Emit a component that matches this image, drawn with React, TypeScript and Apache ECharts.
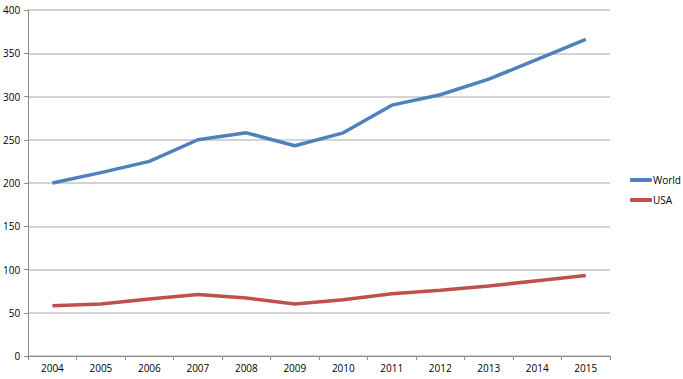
import React, { useEffect, useRef } from "react";
import * as echarts from "echarts";

const years = ["2004", "2005", "2006", "2007", "2008", "2009", "2010", "2011", "2012", "2013", "2014", "2015"];
const worldValues = [200, 212, 225, 250, 258, 243, 258, 290, 302, 320, 343, 366];
const usaValues = [58, 60, 66, 71, 67, 60, 65, 72, 76, 81, 87, 93];
const seriesNames = ["World", "USA"];
const seriesColors = ["#4F81BD", "#C0504D"];

export default function App() {
  const ref = useRef<HTMLDivElement>(null);
  useEffect(() => {
    document.body.style.margin = "0";
    if (!ref.current) return;
    const chart = echarts.init(ref.current, null, { renderer: "svg" });
    const font = "'Open Sans', 'Liberation Sans', sans-serif";
    chart.setOption({
      animation: false,
      backgroundColor: "#ffffff",
      grid: { left: 26, right: 73, top: 10, bottom: 23, containLabel: false },
      legend: {
        orient: "vertical",
        left: 625,
        top: 170,
        itemWidth: 22,
        itemHeight: 4,
        itemGap: 10,
        icon: "roundRect",
        textStyle: { fontFamily: font, fontSize: 10, color: "#000", padding: [0, 0, 0, -4] },
        data: seriesNames,
      },
      xAxis: {
        type: "category",
        data: years,
        boundaryGap: true,
        axisLine: { lineStyle: { color: "#8C8C8C", width: 1 } },
        axisTick: { show: true, length: 4, lineStyle: { color: "#8C8C8C" } },
        axisLabel: { fontFamily: font, fontSize: 10, color: "#000", margin: 7 },
        splitLine: { show: false },
      },
      yAxis: {
        type: "value",
        min: 0,
        max: 400,
        interval: 50,
        axisLine: { show: true, lineStyle: { color: "#8C8C8C", width: 1 } },
        axisTick: { show: true, length: 4, lineStyle: { color: "#8C8C8C" } },
        axisLabel: { fontFamily: font, fontSize: 10, color: "#000", margin: 8 },
        splitLine: { show: true, lineStyle: { color: "#C4C4C4", width: 1.5 } },
      },
      series: [
        {
          name: seriesNames[0],
          type: "line",
          data: worldValues,
          symbol: "none",
          color: seriesColors[0],
          lineStyle: { width: 3.5, color: seriesColors[0] },
        },
        {
          name: seriesNames[1],
          type: "line",
          data: usaValues,
          symbol: "none",
          color: seriesColors[1],
          lineStyle: { width: 3.5, color: seriesColors[1] },
        },
      ],
    });
    return () => chart.dispose();
  }, []);
  return <div ref={ref} style={{ width: 683, height: 379 }} />;
}
